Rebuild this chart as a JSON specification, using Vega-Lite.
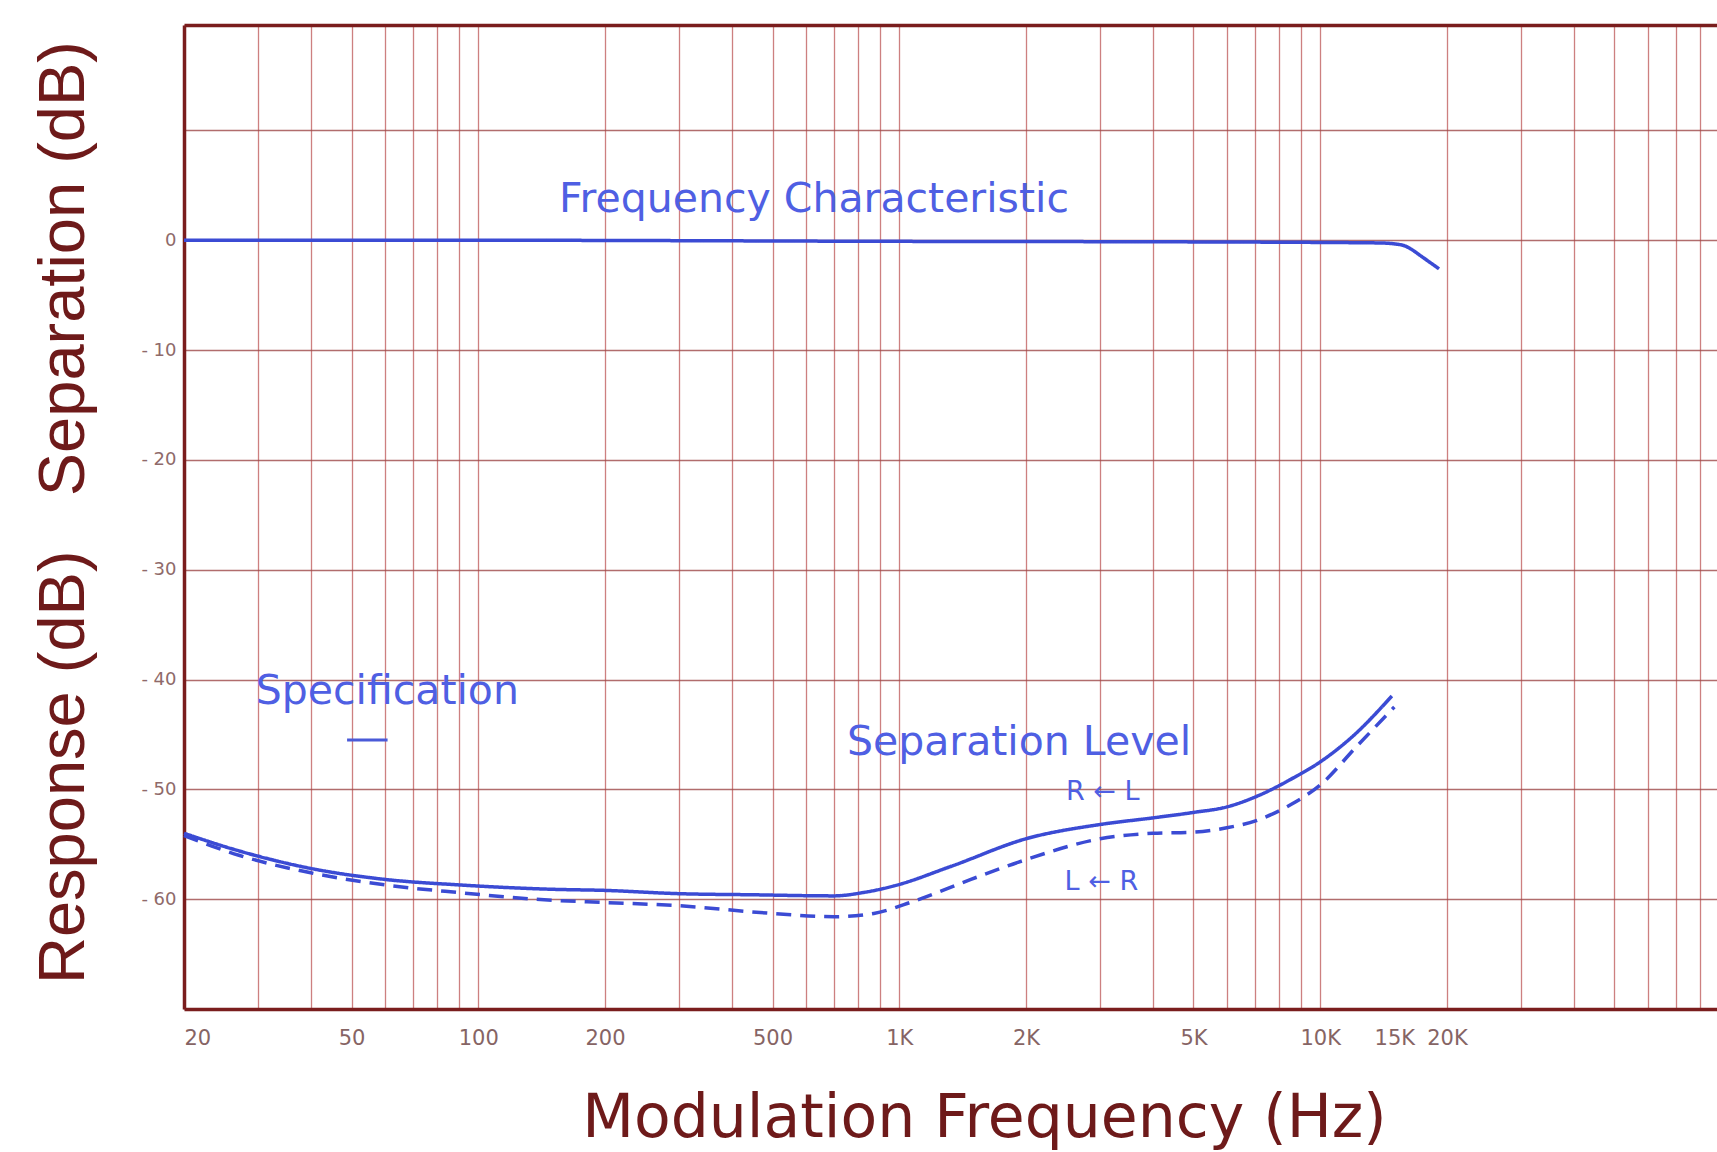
{
  "$schema": "https://vega.github.io/schema/vega-lite/v6.json",
  "width": 1533,
  "height": 984,
  "autosize": {"type": "none"},
  "padding": {"left": 184, "top": 25, "right": 0, "bottom": 143},
  "background": "#ffffff",
  "config": {"view": {"stroke": null}},
  "resolve": {"axis": {"x": "independent", "y": "independent"}},
  "datasets": {
    "curves": [
      {"series": "Frequency Characteristic", "freq": 20, "db": 0},
      {"series": "Frequency Characteristic", "freq": 100, "db": 0},
      {"series": "Frequency Characteristic", "freq": 1000, "db": -0.1},
      {"series": "Frequency Characteristic", "freq": 5000, "db": -0.15},
      {"series": "Frequency Characteristic", "freq": 10000, "db": -0.2},
      {"series": "Frequency Characteristic", "freq": 14000, "db": -0.25},
      {"series": "Frequency Characteristic", "freq": 15700, "db": -0.45},
      {"series": "Frequency Characteristic", "freq": 16500, "db": -0.85},
      {"series": "Frequency Characteristic", "freq": 17300, "db": -1.4},
      {"series": "Frequency Characteristic", "freq": 18200, "db": -2.0},
      {"series": "Frequency Characteristic", "freq": 19150, "db": -2.6},
      {"series": "R→L", "freq": 20, "db": -54.0},
      {"series": "R→L", "freq": 27, "db": -55.6},
      {"series": "R→L", "freq": 40, "db": -57.2},
      {"series": "R→L", "freq": 60, "db": -58.2},
      {"series": "R→L", "freq": 90, "db": -58.7},
      {"series": "R→L", "freq": 150, "db": -59.1},
      {"series": "R→L", "freq": 200, "db": -59.2},
      {"series": "R→L", "freq": 300, "db": -59.5},
      {"series": "R→L", "freq": 450, "db": -59.6},
      {"series": "R→L", "freq": 700, "db": -59.7},
      {"series": "R→L", "freq": 820, "db": -59.4},
      {"series": "R→L", "freq": 970, "db": -58.8},
      {"series": "R→L", "freq": 1330, "db": -57.0},
      {"series": "R→L", "freq": 2000, "db": -54.5},
      {"series": "R→L", "freq": 3000, "db": -53.2},
      {"series": "R→L", "freq": 4000, "db": -52.6},
      {"series": "R→L", "freq": 5000, "db": -52.1},
      {"series": "R→L", "freq": 6000, "db": -51.6},
      {"series": "R→L", "freq": 7100, "db": -50.6},
      {"series": "R→L", "freq": 8500, "db": -49.1},
      {"series": "R→L", "freq": 10000, "db": -47.5},
      {"series": "R→L", "freq": 12000, "db": -45.1},
      {"series": "R→L", "freq": 14800, "db": -41.5},
      {"series": "L→R", "freq": 20, "db": -54.2},
      {"series": "L→R", "freq": 27, "db": -56.0},
      {"series": "L→R", "freq": 40, "db": -57.6},
      {"series": "L→R", "freq": 60, "db": -58.7},
      {"series": "L→R", "freq": 90, "db": -59.4},
      {"series": "L→R", "freq": 150, "db": -60.1},
      {"series": "L→R", "freq": 200, "db": -60.3},
      {"series": "L→R", "freq": 300, "db": -60.6},
      {"series": "L→R", "freq": 500, "db": -61.3},
      {"series": "L→R", "freq": 700, "db": -61.6},
      {"series": "L→R", "freq": 870, "db": -61.3},
      {"series": "L→R", "freq": 1080, "db": -60.2},
      {"series": "L→R", "freq": 1480, "db": -58.2},
      {"series": "L→R", "freq": 2000, "db": -56.4},
      {"series": "L→R", "freq": 3000, "db": -54.5},
      {"series": "L→R", "freq": 4000, "db": -54.0},
      {"series": "L→R", "freq": 5000, "db": -53.9},
      {"series": "L→R", "freq": 6000, "db": -53.5},
      {"series": "L→R", "freq": 7100, "db": -52.8},
      {"series": "L→R", "freq": 8500, "db": -51.4},
      {"series": "L→R", "freq": 10000, "db": -49.6},
      {"series": "L→R", "freq": 12200, "db": -46.1},
      {"series": "L→R", "freq": 15000, "db": -42.5}
    ],
    "bigNotes": [
      {"text": "Frequency Characteristic", "freq": 155.5, "db": 2.55},
      {"text": "Specification", "freq": 29.6, "db": -42.2},
      {"text": "Separation Level", "freq": 751, "db": -46.9}
    ],
    "smallNotes": [
      {"text": "R ← L", "freq": 2489, "db": -51.0},
      {"text": "L ← R", "freq": 2470, "db": -59.2}
    ],
    "marker": [
      {"freq": 48.8, "freq2": 60.9, "db": -45.5}
    ]
  },
  "layer": [
    {
      "data": {"name": "curves"},
      "mark": {"type": "line", "interpolate": "monotone", "strokeWidth": 3.5, "color": "#3b4bd4"},
      "encoding": {
        "x": {
          "field": "freq", "type": "quantitative",
          "scale": {"type": "log", "domain": [20, 87600], "nice": false},
          "axis": {
            "orient": "bottom",
            "values": [20, 30, 40, 50, 60, 70, 80, 90, 100, 200, 300, 400, 500, 600, 700, 800, 900, 1000, 2000, 3000, 4000, 5000, 6000, 7000, 8000, 9000, 10000, 15000, 20000, 30000, 40000, 50000, 60000, 70000, 80000],
            "grid": true,
            "gridColor": "#c46a6a",
            "gridWidth": 1.3,
            "gridOpacity": {"condition": {"test": "datum.value == 15000", "value": 0}, "value": 0.85},
            "ticks": false,
            "domain": true,
            "domainColor": "#7a1d1d",
            "domainWidth": 3.5,
            "labelExpr": "datum.value==20?'20':datum.value==50?'50':datum.value==100?'100':datum.value==200?'200':datum.value==500?'500':datum.value==1000?'1K':datum.value==2000?'2K':datum.value==5000?'5K':datum.value==10000?'10K':datum.value==15000?'15K':datum.value==20000?'20K':''",
            "labelAlign": {"condition": {"test": "datum.value == 20", "value": "left"}, "value": "center"},
            "labelFont": "DejaVu Sans",
            "labelFontSize": 21,
            "labelColor": "#866464",
            "labelPadding": 18,
            "labelOverlap": false,
            "labelFlush": false,
            "title": "Modulation Frequency (Hz)",
            "titleFont": "DejaVu Sans",
            "titleFontSize": 60,
            "titleFontWeight": "normal",
            "titleColor": "#6e1a1a",
            "titleX": 800,
            "titleY": 127,
            "titleBaseline": "alphabetic",
            "titleAlign": "center"
          }
        },
        "y": {
          "field": "db", "type": "quantitative",
          "scale": {"domain": [-70, 19.6], "nice": false, "zero": false},
          "axis": {
            "orient": "left",
            "values": [-60, -50, -40, -30, -20, -10, 0, 10],
            "grid": true,
            "gridColor": "#9e4848",
            "gridWidth": 1.4,
            "gridOpacity": 0.8,
            "ticks": false,
            "domain": true,
            "domainColor": "#7a1d1d",
            "domainWidth": 3.5,
            "labelExpr": "datum.value==0?'0':(datum.value<0?'- '+abs(datum.value):'')",
            "labelFont": "DejaVu Sans",
            "labelFontSize": 18,
            "labelColor": "#8f6a6a",
            "labelPadding": 8,
            "title": "Response (dB)\u00a0\u00a0\u00a0Separation (dB)",
            "titleFont": "Liberation Sans",
            "titleFontSize": 65,
            "titleFontWeight": "normal",
            "titleColor": "#6e1a1a",
            "titleX": -101,
            "titleY": 487,
            "titleAngle": 270,
            "titleBaseline": "alphabetic",
            "titleAlign": "center"
          }
        },
        "detail": {"field": "series"},
        "strokeDash": {
          "field": "series", "type": "nominal",
          "scale": {"domain": ["Frequency Characteristic", "R→L", "L→R"], "range": [[1, 0], [1, 0], [15, 9]]},
          "legend": null
        }
      }
    },
    {
      "data": {"name": "marker"},
      "mark": {"type": "rule", "strokeWidth": 3, "color": "#4a5ad8"},
      "encoding": {
        "x": {
          "field": "freq", "type": "quantitative",
          "axis": {"orient": "top", "domain": true, "domainColor": "#7a1d1d", "domainWidth": 3.5, "labels": false, "ticks": false, "grid": false, "title": null}
        },
        "x2": {"field": "freq2"},
        "y": {"field": "db", "type": "quantitative", "axis": null}
      }
    },
    {
      "data": {"name": "bigNotes"},
      "mark": {"type": "text", "align": "left", "baseline": "alphabetic", "font": "DejaVu Sans", "fontSize": 41, "color": "#4f5fe3"},
      "encoding": {
        "x": {"field": "freq", "type": "quantitative", "axis": null},
        "y": {"field": "db", "type": "quantitative", "axis": null},
        "text": {"field": "text"}
      }
    },
    {
      "data": {"name": "smallNotes"},
      "mark": {"type": "text", "align": "left", "baseline": "alphabetic", "font": "DejaVu Sans", "fontSize": 27, "color": "#4f5fe3"},
      "encoding": {
        "x": {"field": "freq", "type": "quantitative", "axis": null},
        "y": {"field": "db", "type": "quantitative", "axis": null},
        "text": {"field": "text"}
      }
    }
  ]
}
